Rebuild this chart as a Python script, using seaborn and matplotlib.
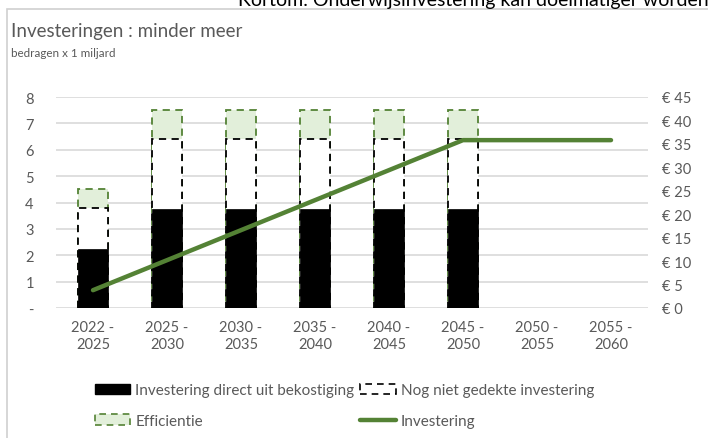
import numpy as np
import matplotlib
matplotlib.use("Agg")
import matplotlib.pyplot as plt
from matplotlib.patches import Patch, Rectangle
from matplotlib.lines import Line2D
import seaborn as sns


# ---- Data ----------------------------------------------------####

periods = ["2022 -\n2025", "2025 -\n2030", "2030 -\n2035", "2035 -\n2040",
           "2040 -\n2045", "2045 -\n2050", "2050 -\n2055", "2055 -\n2060"]

# bars (left axis, x 1 miljard); no bars in the last two periods
direct_bekostiging = [2.25, 3.75, 3.75, 3.75, 3.75, 3.75, np.nan, np.nan]
niet_gedekt = [1.55, 2.65, 2.65, 2.65, 2.65, 2.65, np.nan, np.nan]
efficientie = [0.7, 1.1, 1.1, 1.1, 1.1, 1.1, np.nan, np.nan]

# line (right axis, cumulative)
investering = [3.8, 10.2, 16.6, 23.0, 29.4, 35.8, 35.8, 35.8]

left_ticks = [0, 1, 2, 3, 4, 5, 6, 7, 8]
left_labels = ["-", "1", "2", "3", "4", "5", "6", "7", "8"]
right_ticks = [0, 5, 10, 15, 20, 25, 30, 35, 40, 45]
right_labels = ["€ " + str(v) for v in right_ticks]


# ---- Style ----------------------------------------------------####

sns.set_style("white")
plt.rcParams["font.family"] = ["Lato", "DejaVu Sans"]

grey_txt = "#595959"
grid_col = "#d9d9d9"
green = "#548235"
light_green = "#e2efda"

# stacked tops
top_mid = np.array(direct_bekostiging) + np.array(niet_gedekt)
top_all = top_mid + np.array(efficientie)


# ---- Plot -----------------------------------------------------------####

fig = plt.figure(figsize=(7.08, 4.39), dpi=100)
ax = fig.add_axes([56 / 708, 1 - 309 / 439, (648 - 56) / 708, (309 - 98) / 439])

# outer chart frame
fig.patches.append(Rectangle((7 / 708, -0.05), 1.05, 1 - 10 / 439 + 0.05,
                             transform=fig.transFigure, fill=False,
                             edgecolor="#d0d0d0", linewidth=1.2))

# bars, drawn from the top segment downwards so each sits on the one below
sns.barplot(x=periods, y=top_all, color=light_green, saturation=1, width=0.4,
            edgecolor=green, linestyle=(0, (4, 3)), linewidth=1.3, ax=ax)
sns.barplot(x=periods, y=top_mid, color="white", saturation=1, width=0.4,
            edgecolor="black", linestyle=(0, (4, 3)), linewidth=1.3, ax=ax)
sns.barplot(x=periods, y=direct_bekostiging, color="black", saturation=1,
            width=0.4, edgecolor="black", linewidth=0.5, ax=ax)

ax.set_xlim(-0.5, len(periods) - 0.5)
ax.set_ylim(0, 8)
ax.set_yticks(left_ticks)
ax.set_yticklabels(left_labels)
ax.yaxis.grid(True, color=grid_col, linewidth=1.2)
ax.set_axisbelow(True)
for s in ax.spines.values():
    s.set_visible(False)
ax.tick_params(axis="y", length=0, pad=16, labelsize=10.5, labelcolor=grey_txt)
ax.tick_params(axis="x", length=0, pad=9, labelsize=10.5, labelcolor=grey_txt)
ax.set_xlabel("")
ax.set_ylabel("")

# line on the right axis
ax2 = ax.twinx()
sns.lineplot(x=np.arange(len(periods)), y=investering, color=green,
             linewidth=3.2, ax=ax2, solid_capstyle="round")
ax2.set_ylim(0, 45)
ax2.set_yticks(right_ticks)
ax2.set_yticklabels(right_labels)
for s in ax2.spines.values():
    s.set_visible(False)
ax2.tick_params(axis="y", length=0, pad=10, labelsize=10.5, labelcolor=grey_txt)
ax2.grid(False)

# titles (the slide heading above the chart is cropped in the reference)
fig.text(238 / 708, 1 - 6 / 439, "Kortom: Onderwijsinvestering kan doelmatiger worden",
         fontsize=14, color="black", va="baseline", ha="left")
fig.text(11 / 708, 1 - 36.5 / 439, "Investeringen : minder meer",
         fontsize=13.5, color=grey_txt, va="baseline", ha="left")
fig.text(11 / 708, 1 - 57 / 439, "bedragen x 1 miljard",
         fontsize=8.4, color=grey_txt, va="baseline", ha="left")

# legend
handles = [
    Patch(facecolor="black", edgecolor="black"),
    Patch(facecolor=light_green, edgecolor=green, linestyle=(0, (4, 3)), linewidth=1.2),
    Patch(facecolor="white", edgecolor="black", linestyle=(0, (4, 3)), linewidth=1.2),
    Line2D([0], [0], color=green, linewidth=3.2),
]
labels = ["Investering direct uit bekostiging", "Efficientie",
          "Nog niet gedekte investering", "Investering"]
fig.legend(handles, labels, ncol=2, loc="upper left",
           bbox_to_anchor=(95 / 708, 1 - 384 / 439), frameon=False,
           fontsize=11, labelcolor=grey_txt, handlelength=2.3,
           handleheight=0.65, handletextpad=0.33, columnspacing=0.4,
           labelspacing=1.1, borderpad=0, borderaxespad=0)

fig.savefig("out.png", dpi=100)
